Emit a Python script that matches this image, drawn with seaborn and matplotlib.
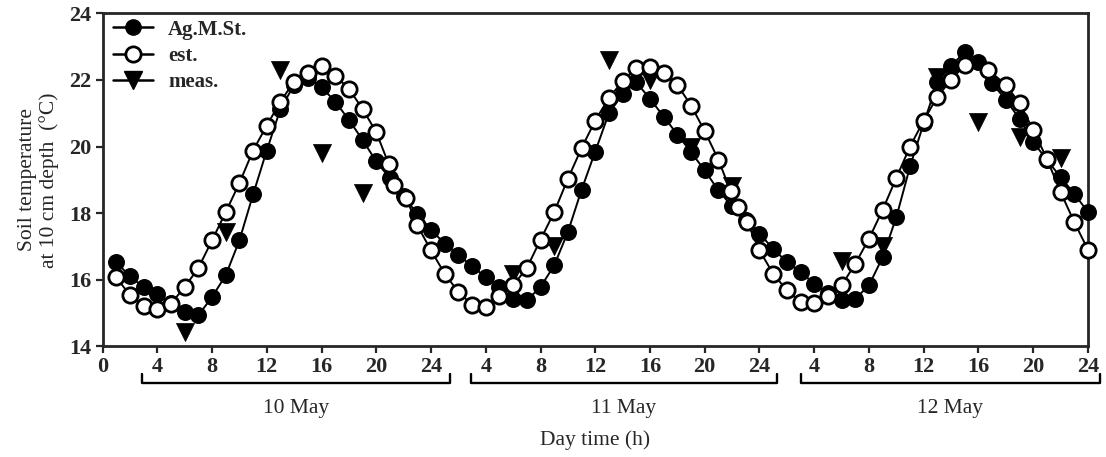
import numpy as np
import pandas as pd
import matplotlib
matplotlib.use("Agg")
import matplotlib.pyplot as plt
import matplotlib.transforms as mtransforms
from matplotlib.lines import Line2D
import seaborn as sns

# hourly values over three days (hour 1..72 counted from 10 May 00:00)
ag_hours = np.arange(1, 73)
ag_temp = [16.53, 16.10, 15.78, 15.56, 15.30, 15.03, 14.93, 15.48, 16.13, 17.18,
           18.56, 19.88, 21.13, 21.85, 22.05, 21.78, 21.35, 20.80, 20.20, 19.55,
           19.05, 18.50, 17.98, 17.50, 17.08, 16.75, 16.40, 16.08, 15.78, 15.43,
           15.38, 15.78, 16.43, 17.43, 18.70, 19.85, 21.00, 21.58, 21.93, 21.43,
           20.90, 20.36, 19.83, 19.28, 18.68, 18.20, 17.80, 17.38, 16.93, 16.53,
           16.23, 15.88, 15.60, 15.40, 15.43, 15.83, 16.68, 17.88, 19.40, 20.70,
           21.93, 22.43, 22.83, 22.53, 21.90, 21.40, 20.83, 20.13, 19.60, 19.08,
           18.58, 18.03]

est_hours = [1, 2, 3, 4, 5, 6, 7, 8, 9, 10, 11, 12, 13, 14, 15, 16, 17, 18, 19, 20,
             20.9, 21.3, 22.2, 23, 24, 25, 26, 27, 28, 29, 30, 31, 32, 33, 34, 35,
             36, 37, 38, 39, 40, 41, 42, 43, 44, 45, 45.9, 46.4, 47.1, 48, 49, 50,
             51, 52, 53, 54, 55, 56, 57, 58, 59, 60, 61, 62, 63, 64.7, 66, 67, 68,
             69, 70, 71, 72]
est_temp = [16.08, 15.53, 15.21, 15.13, 15.28, 15.78, 16.35, 17.18, 18.03, 18.90,
            19.88, 20.63, 21.35, 21.95, 22.21, 22.43, 22.13, 21.73, 21.13, 20.43,
            19.48, 18.85, 18.45, 17.63, 16.88, 16.18, 15.63, 15.25, 15.18, 15.50,
            15.83, 16.35, 17.20, 18.03, 19.03, 19.95, 20.78, 21.46, 21.96, 22.36,
            22.38, 22.21, 21.85, 21.23, 20.46, 19.60, 18.65, 18.18, 17.73, 16.88,
            16.18, 15.68, 15.33, 15.30, 15.50, 15.83, 16.48, 17.23, 18.10, 19.06,
            20.00, 20.78, 21.50, 22.00, 22.45, 22.30, 21.85, 21.30, 20.50, 19.63,
            18.63, 17.73, 16.90]

meas_hours = [6, 9, 13, 16, 19, 30, 33, 37, 40, 43, 46, 54, 57, 61, 64, 67, 70]
meas_temp = [14.43, 17.43, 22.30, 19.80, 18.60, 16.18, 17.00, 22.60, 22.00, 20.00,
             18.80, 16.55, 17.00, 22.10, 20.75, 20.30, 19.65]

xtick_pos = np.arange(0, 73, 4)
xtick_labels = ['0', '4', '8', '12', '16', '20', '24',
                '4', '8', '12', '16', '20', '24',
                '4', '8', '12', '16', '20', '24']
days = ['10 May', '11 May', '12 May']
day_spans = [(2.9, 25.4), (26.9, 49.3), (51.0, 72.9)]

ag = pd.DataFrame({'hour': ag_hours, 'temp': ag_temp})
est = pd.DataFrame({'hour': est_hours, 'temp': est_temp})
meas = pd.DataFrame({'hour': meas_hours, 'temp': meas_temp})

sns.set_style("ticks")
plt.rcParams['font.family'] = ['Liberation Serif', 'DejaVu Serif']

fig = plt.figure(figsize=(11.06, 4.57), dpi=100)
ax = fig.add_axes([0.0927, 0.2422, 0.891, 0.7287])

ms = 11
sns.scatterplot(data=meas, x='hour', y='temp', ax=ax, color='black', marker='v',
                s=170, edgecolor='black', linewidth=0.5, zorder=2, clip_on=False)
sns.lineplot(data=ag, x='hour', y='temp', ax=ax, color='black', lw=1.4,
             marker='o', markersize=ms, markerfacecolor='black',
             markeredgecolor='black', markeredgewidth=1.2, estimator=None,
             zorder=3, clip_on=False)
sns.lineplot(data=est, x='hour', y='temp', ax=ax, color='black', lw=1.4,
             marker='o', markersize=ms, markerfacecolor='white',
             markeredgecolor='black', markeredgewidth=2.0, estimator=None,
             zorder=4, clip_on=False)

ax.set_xlim(0, 72)
ax.set_ylim(14, 24)
ax.set_yticks([14, 16, 18, 20, 22, 24])
ax.set_xticks(xtick_pos)
ax.set_xticklabels(xtick_labels)
ax.tick_params(direction='out', length=5, width=1.6, labelsize=16, pad=3)
for lab in ax.get_xticklabels() + ax.get_yticklabels():
    lab.set_fontweight('bold')
for sp in ax.spines.values():
    sp.set_linewidth(2.0)
    sp.set_zorder(1)

# day brackets under the tick labels
trans = mtransforms.blended_transform_factory(ax.transData, ax.transAxes)
for name, (a, b) in zip(days, day_spans):
    ax.plot([a, a, b, b], [-0.082, -0.110, -0.110, -0.082], color='black',
            lw=1.7, transform=trans, clip_on=False)
    ax.text((a + b) / 2, -0.188, name, transform=trans, ha='center',
            va='center', fontsize=15.5)

ax.set_xlabel('Day time (h)', fontsize=15.5)
ax.xaxis.set_label_coords(0.5, -0.283)
ax.xaxis.label.set_va('center')
ax.set_ylabel('Soil temperature\nat 10 cm depth  (°C)', fontsize=15.5, linespacing=1.1)
ax.yaxis.set_label_coords(-0.065, 0.5)
ax.yaxis.label.set_va('center')

handles = [
    Line2D([], [], color='black', lw=1.8, marker='o', markersize=ms,
           markerfacecolor='black', markeredgecolor='black'),
    Line2D([], [], color='black', lw=1.8, marker='o', markersize=ms,
           markerfacecolor='white', markeredgecolor='black', markeredgewidth=2.0),
    Line2D([], [], color='black', lw=1.8, marker='v', markersize=13,
           markerfacecolor='black', markeredgecolor='black'),
]
leg = ax.legend(handles, ['Ag.M.St.', 'est.', 'meas.'], loc='upper left',
                frameon=False, bbox_to_anchor=(0.0, 1.012), handlelength=1.9,
                handletextpad=0.75, labelspacing=0.3, borderaxespad=0.3,
                borderpad=0.2, prop={'weight': 'bold', 'size': 15})

fig.savefig('out.png', dpi=100)
